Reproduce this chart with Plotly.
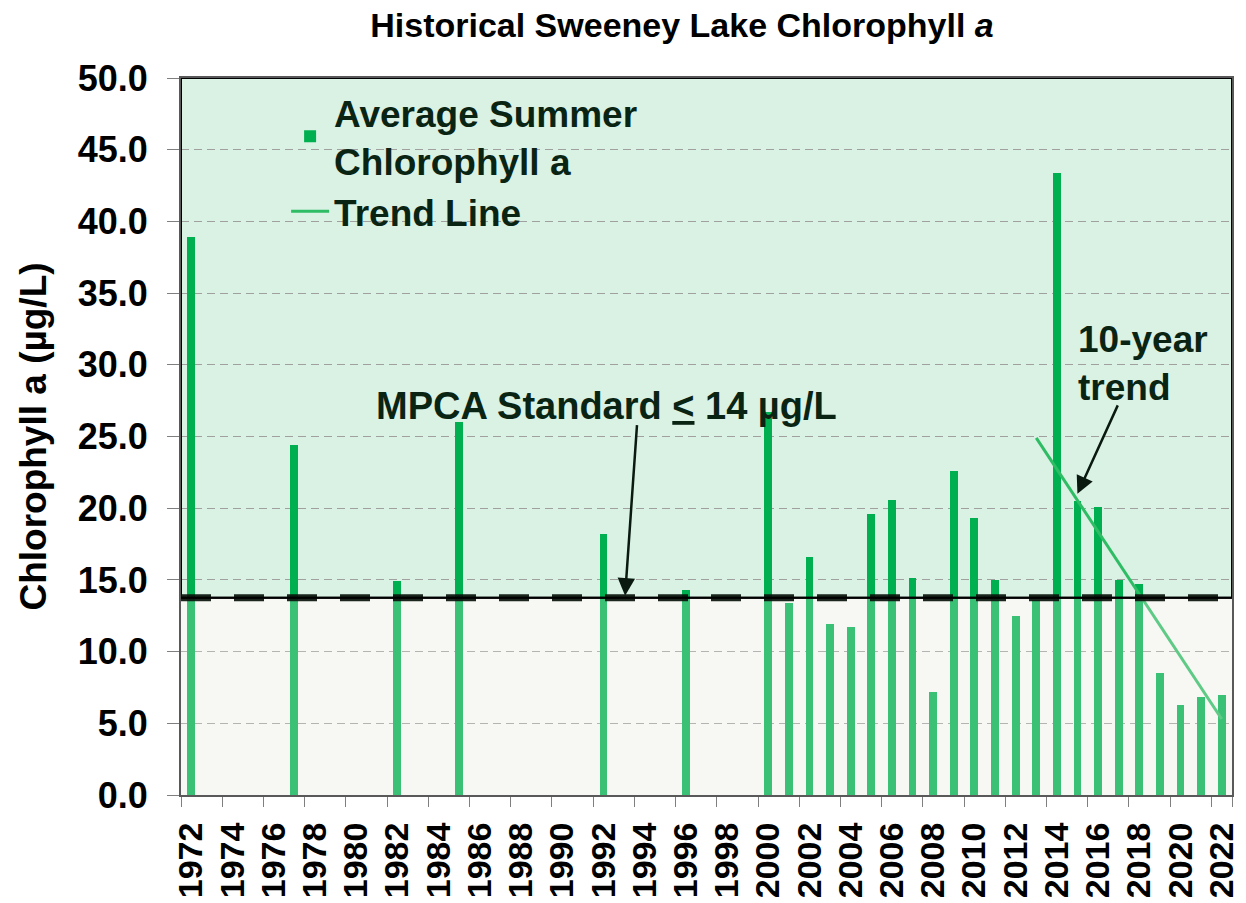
import plotly.graph_objects as go

# ---- data ----
years = [1972, 1977, 1982, 1985, 1992, 1996, 2000, 2001, 2002, 2003, 2004, 2005,
         2006, 2007, 2008, 2009, 2010, 2011, 2012, 2013, 2014, 2015, 2016, 2017,
         2018, 2019, 2020, 2021, 2022]
chl_a = [38.9, 24.4, 14.9, 26.0, 18.2, 14.3, 26.7, 13.4, 16.6, 11.9, 11.7, 19.6,
         20.6, 15.1, 7.2, 22.6, 19.3, 15.0, 12.5, 13.6, 43.4, 20.5, 20.1, 15.0,
         14.7, 8.5, 6.3, 6.8, 7.0]
trend_years = [2013, 2022]
trend_values = [24.9, 5.3]
standard_value = 13.75
tick_years = list(range(1972, 2023, 2))
y_ticks = [0, 5, 10, 15, 20, 25, 30, 35, 40, 45, 50]

FONT = "Liberation Sans, Arial, sans-serif"
DARK = "#0a2414"
BAR_GREEN = "#00b050"
TREND_GREEN = "#2ebd64"
UPPER_BG = "#d9f2e4"
LOWER_BG = "#f8f8f3"

x_min, x_max = years[0] - 0.5, years[-1] + 0.5

fig = go.Figure()
fig.add_trace(go.Bar(
    x=years, y=chl_a, width=0.38, marker=dict(color=BAR_GREEN, line=dict(width=0)),
    name="Average Summer<br>Chlorophyll a",
))
fig.add_trace(go.Scatter(
    x=trend_years, y=trend_values, mode="lines",
    line=dict(color=TREND_GREEN, width=3), name="Trend Line",
))

shapes = [
    dict(type="rect", xref="x", yref="y", x0=x_min, x1=x_max, y0=standard_value, y1=50,
         fillcolor=UPPER_BG, line=dict(width=0), layer="below"),
    dict(type="rect", xref="x", yref="y", x0=x_min, x1=x_max, y0=0, y1=standard_value,
         fillcolor=LOWER_BG, opacity=0.24, line=dict(width=0), layer="above"),
    dict(type="rect", xref="x", yref="y", x0=x_min, x1=x_max, y0=standard_value, y1=50,
         fillcolor="rgba(0,0,0,0)", line=dict(color="#000000", width=2), layer="above"),
    dict(type="line", xref="x", yref="y", x0=x_min, x1=x_max, y0=standard_value, y1=standard_value,
         line=dict(color="rgba(10,20,12,0.92)", width=7, dash="30px,23px"), layer="above"),
    dict(type="line", xref="x", yref="y", x0=x_min, x1=x_max, y0=standard_value, y1=standard_value,
         line=dict(color="#000000", width=2), layer="above"),
]

annotations = [
    dict(x=1992.15, y=27.1, xref="x", yref="y", text="<b>MPCA Standard <u>&lt;</u> 14 µg/L</b>",
         showarrow=False, xanchor="center", yanchor="middle",
         font=dict(family=FONT, size=38, color=DARK)),
    dict(x=1993.05, y=13.9, xref="x", yref="y", text="", showarrow=True,
         ax=12, ay=-172, arrowhead=2, arrowsize=1.4, arrowwidth=2.5, arrowcolor="#0a1a10"),
    dict(x=2014.95, y=30.1, xref="x", yref="y", text="<b>10-year<br>trend</b>",
         showarrow=False, xanchor="left", yanchor="middle", align="left",
         font=dict(family=FONT, size=37, color=DARK)),
    dict(x=2015.0, y=21.0, xref="x", yref="y", text="", showarrow=True,
         ax=41, ay=-90, arrowhead=2, arrowsize=1.4, arrowwidth=2.5, arrowcolor="#0a1a10"),
]

# the page adds an 8px body margin, so the figure is sized/margined to compensate
fig.update_layout(
    width=1238, height=895,
    margin=dict(l=173, r=14, t=70, b=108),
    paper_bgcolor="white", plot_bgcolor=LOWER_BG,
    font=dict(family=FONT, color="black"),
    title=dict(text="<b>Historical Sweeney Lake Chlorophyll <i>a</i></b>",
               x=0.4767, xanchor="center", xref="paper", y=0.9944, yanchor="top", yref="container",
               font=dict(family=FONT, size=34, color="black")),
    showlegend=True,
    legend=dict(x=0.100, xanchor="left", y=0.995, yanchor="top",
                bgcolor="rgba(0,0,0,0)", borderwidth=0,
                font=dict(family=FONT, size=37, color=DARK, weight="bold"), itemwidth=38,
                traceorder="normal"),
    shapes=shapes, annotations=annotations,
    bargap=0,
)

fig.update_xaxes(
    automargin=False,
    range=[x_min, x_max], tickmode="array", tickvals=tick_years,
    ticktext=[f"<b>{y}</b>" for y in tick_years], tickangle=-90,
    ticks="outside", ticklen=12, tickcolor="rgba(0,0,0,0)",
    tickfont=dict(family=FONT, size=34, color="black", weight="bold"),
    minor=dict(tickmode="array", tickvals=[y - 0.5 for y in tick_years] + [x_max],
               ticks="outside", ticklen=10, tickcolor="#7f7f7f", tickwidth=1, showgrid=False),
    showgrid=False, showline=True, linecolor="#595959", linewidth=2, mirror=True, zeroline=False,
)
fig.update_yaxes(
    automargin=False,
    range=[0, 50], tickmode="array", tickvals=y_ticks, tickformat=".1f",
    ticks="outside", ticklen=12, tickcolor="#7f7f7f", ticklabelstandoff=12,
    tickfont=dict(family=FONT, size=36, color="black", weight="bold"),
    showgrid=True, gridcolor="#a0a0a0", gridwidth=1, griddash="8px,5px",
    showline=True, linecolor="#595959", linewidth=2, mirror=True, zeroline=False,
    title=dict(text="<b>Chlorophyll a (µg/L)</b>", standoff=20,
               font=dict(family=FONT, size=37, color="black")),
)

fig.write_html("out.html")
